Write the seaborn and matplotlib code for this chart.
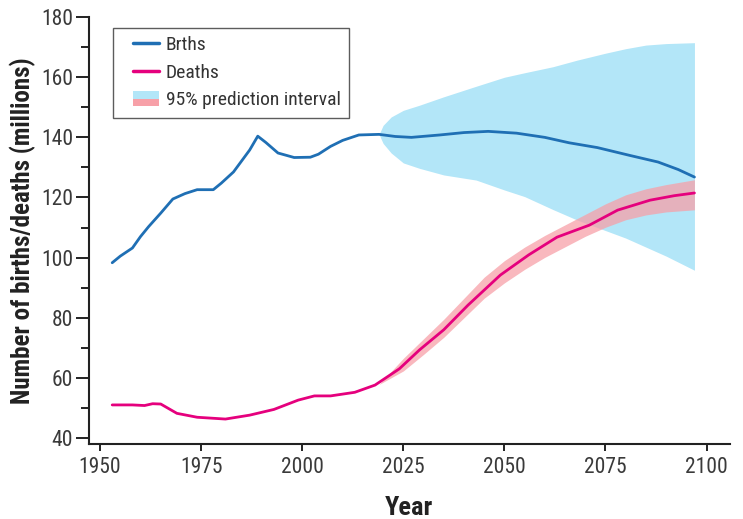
import numpy as np
import pandas as pd
import matplotlib
matplotlib.use("Agg")
import matplotlib.pyplot as plt
from matplotlib.patches import Rectangle
from matplotlib.lines import Line2D
from matplotlib.legend_handler import HandlerBase
from matplotlib.ticker import MultipleLocator
import seaborn as sns

BLUE = "#1f6fb4"
PINK = "#e5007d"
BLUE_BAND = "#b3e6f8"
PINK_BAND = "#f7a0a8"

# births (millions), observed + projected mean
birth_years = [1953, 1955, 1958, 1960, 1962, 1965, 1968, 1971, 1974, 1978, 1980, 1983,
               1987, 1989, 1991, 1994, 1998, 2002, 2004, 2007, 2010, 2014, 2019,
               2023, 2027, 2034, 2040, 2046, 2053, 2060, 2066, 2073, 2081, 2088, 2093, 2097]
births = [98.3, 100.5, 103.2, 107.0, 110.3, 114.8, 119.5, 121.3, 122.6, 122.6, 124.8, 128.5,
          135.8, 140.4, 138.3, 134.8, 133.3, 133.4, 134.4, 137.0, 139.0, 140.8, 141.0,
          140.3, 140.0, 140.8, 141.6, 142.0, 141.4, 140.0, 138.2, 136.6, 134.0, 131.8, 129.3, 126.8]

# deaths (millions)
death_years = [1953, 1958, 1961, 1963, 1965, 1969, 1974, 1981, 1987, 1993,
               1999, 2003, 2007, 2013, 2018, 2024, 2029, 2035, 2041, 2049,
               2056, 2063, 2071, 2078, 2086, 2092, 2097]
deaths = [51.0, 51.0, 50.8, 51.4, 51.3, 48.2, 46.9, 46.3, 47.6, 49.5,
          52.6, 54.0, 54.0, 55.2, 57.6, 63.0, 69.3, 76.0, 84.2, 94.2,
          100.9, 106.8, 110.8, 115.8, 119.1, 120.6, 121.5]

# 95% prediction intervals
birth_pi_years = [2019, 2020, 2022, 2025, 2029, 2035, 2043, 2050, 2055, 2062, 2068,
                  2075, 2080, 2085, 2090, 2097]
birth_lo = [141.0, 138.0, 134.8, 131.5, 129.7, 127.5, 125.8, 122.5, 120.3, 116.0, 112.5,
            109.0, 106.5, 103.5, 100.5, 95.8]
birth_hi = [141.0, 144.0, 146.8, 149.0, 150.7, 153.5, 157.0, 160.0, 161.5, 163.5, 165.7,
            168.0, 169.5, 170.7, 171.2, 171.5]

death_pi_years = [2019, 2025, 2030, 2035, 2040, 2045, 2050, 2055, 2060, 2065, 2070,
                  2075, 2080, 2085, 2090, 2097]
death_lo = [57.8, 62.3, 67.8, 73.5, 80.0, 86.5, 91.6, 96.1, 100.1, 103.6, 107.1,
            110.1, 112.6, 114.2, 115.2, 115.9]
death_hi = [57.8, 66.5, 73.0, 79.5, 86.5, 93.5, 99.0, 103.5, 107.4, 110.9, 114.4,
            117.9, 120.9, 122.9, 124.3, 125.9]

SKIP = 0.32  # fraction of handle box left empty (extra left padding)


class OffsetLineHandler(HandlerBase):
    def create_artists(self, legend, orig_handle, xdescent, ydescent,
                       width, height, fontsize, trans):
        y = -ydescent + height / 2
        x0 = -xdescent + width * SKIP
        ln = Line2D([x0, -xdescent + width], [y, y], color=orig_handle.get_color(),
                    lw=orig_handle.get_linewidth(), transform=trans)
        return [ln]


class SplitPatchHandler(HandlerBase):
    def create_artists(self, legend, orig_handle, xdescent, ydescent,
                       width, height, fontsize, trans):
        h = height * 1.15
        y0 = -ydescent - (h - height) / 2
        x0 = -xdescent + width * SKIP
        w = width * (1 - SKIP)
        top = Rectangle((x0, y0 + h / 2), w, h / 2, fc=BLUE_BAND, ec="none", transform=trans)
        bot = Rectangle((x0, y0), w, h / 2, fc=PINK_BAND, ec="none", transform=trans)
        return [top, bot]


def main():
    sns.set_style("ticks")
    plt.rcParams["font.family"] = ["Roboto Condensed", "DejaVu Sans"]
    plt.rcParams["font.stretch"] = "condensed"

    fig = plt.figure(figsize=(7.43, 5.19), dpi=100)
    ax = fig.add_axes([0.12, 0.1445, 0.862, 0.8225])

    ax.fill_between(birth_pi_years, birth_lo, birth_hi, color=BLUE_BAND, lw=0, zorder=1)
    ax.fill_between(death_pi_years, death_lo, death_hi, color=PINK_BAND, alpha=0.75, lw=0, zorder=2)

    df_b = pd.DataFrame({"year": birth_years, "value": births})
    df_d = pd.DataFrame({"year": death_years, "value": deaths})
    sns.lineplot(data=df_b, x="year", y="value", color=BLUE, lw=2, ax=ax, zorder=3)
    sns.lineplot(data=df_d, x="year", y="value", color=PINK, lw=2, ax=ax, zorder=3)

    ax.set_xlim(1947.3, 2105.7)
    ax.set_ylim(38, 180)
    ax.set_xticks(range(1950, 2101, 25))
    ax.set_yticks(range(40, 181, 20))
    ax.yaxis.set_minor_locator(MultipleLocator(10))
    ax.tick_params(axis="both", which="both", direction="out", width=1.4,
                   labelsize=15.5, labelcolor="#3a3a3a", color="#222222")
    ax.tick_params(axis="y", which="major", length=9.5, pad=2)
    ax.tick_params(axis="y", which="minor", length=5.8)
    ax.tick_params(axis="x", which="major", length=5, pad=4)
    sns.despine(ax=ax)
    for s in ["left", "bottom"]:
        ax.spines[s].set_linewidth(1.5)
        ax.spines[s].set_color("#222222")
    ax.spines["left"].set_bounds(38, 180)

    ax.set_xlabel("Year", fontsize=19, fontweight="bold", color="#222222", labelpad=13)
    ax.set_ylabel("Number of births/deaths (millions)", fontsize=18, fontweight="bold",
                  color="#222222", labelpad=4)

    h_b = Line2D([], [], color=BLUE, lw=2.5)
    h_d = Line2D([], [], color=PINK, lw=2.5)
    h_pi = Rectangle((0, 0), 1, 1)
    leg = ax.legend([h_b, h_d, h_pi], ["Brths", "Deaths", "95% prediction interval"],
                    handler_map={Line2D: OffsetLineHandler(), Rectangle: SplitPatchHandler()},
                    loc="upper left", bbox_to_anchor=(0.037, 0.975), fontsize=14,
                    frameon=True, fancybox=False, handlelength=1.95, handletextpad=0.36,
                    labelspacing=0.5, borderpad=0.42, borderaxespad=0)
    leg.get_frame().set_edgecolor("#333333")
    leg.get_frame().set_linewidth(1.0)
    for t in leg.get_texts():
        t.set_color("#333333")

    fig.savefig("out.png", dpi=100)


if __name__ == "__main__":
    main()
